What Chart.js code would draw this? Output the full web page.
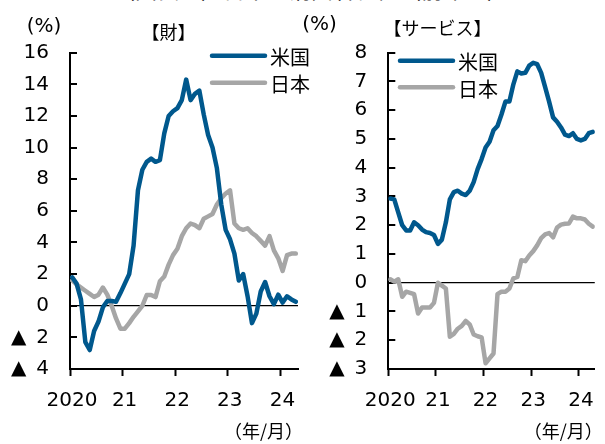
<!DOCTYPE html>
<html>
<head>
<meta charset="utf-8">
<script src="https://cdn.jsdelivr.net/npm/chart.js@4.4.1/dist/chart.umd.min.js"></script>
<style>
  body { margin: 0; background: #fff; width: 605px; height: 444px; overflow: hidden; position: relative; }
  canvas { position: absolute; top: 0; }
  #title { position: absolute; left: 0; width: 622px; top: -23px; text-align: center; font: 22px/22px "Noto Sans CJK JP", sans-serif; white-space: nowrap; }
</style>
</head>
<body>
<div id="title">（図表１）日米の消費者物価（前年比）</div>
<canvas id="goods" width="320" height="444" style="left:0"></canvas>
<canvas id="services" width="303" height="444" style="left:302px"></canvas>
<script>
// monthly, 2020/01 - 2024/04
const months = [];
for (let y = 2020; y <= 2024; y++) {
    for (let m = 1; m <= 12; m++) {
        if (y === 2024 && m > 4) break;
        months.push(y + '/' + m);
    }
}

const usGoods = [1.8, 1.4, 0.4, -2.3, -2.8, -1.6, -1.0, -0.1, 0.3, 0.3, 0.25, 0.8,
    1.4, 2.0, 3.8, 7.3, 8.6, 9.1, 9.3, 9.1, 9.2, 10.9, 12.0, 12.3,
    12.5, 13.0, 14.3, 13.0, 13.4, 13.6, 12.1, 10.8, 10.0, 8.7, 6.4, 4.8,
    4.2, 3.3, 1.6, 2.0, 0.6, -1.1, -0.5, 0.9, 1.5, 0.6, 0.1, 0.7,
    0.2, 0.6, 0.4, 0.25];
const jpGoods = [1.6, 1.35, 1.15, 0.95, 0.75, 0.55, 0.7, 1.15, 0.7, 0.0, -0.8, -1.45,
    -1.45, -1.1, -0.7, -0.35, 0.0, 0.68, 0.68, 0.55, 1.55, 1.85, 2.6, 3.2,
    3.6, 4.4, 4.9, 5.2, 5.1, 4.9, 5.5, 5.65, 5.8, 6.4, 6.8, 7.1,
    7.3, 5.2, 4.9, 4.8, 4.9, 4.6, 4.4, 4.1, 3.8, 4.4, 3.5, 3.0,
    2.2, 3.2, 3.3, 3.3];
const usServices = [2.93, 2.9, 2.45, 2.0, 1.82, 1.82, 2.1, 2.0, 1.85, 1.76, 1.73, 1.66,
    1.35, 1.5, 2.1, 2.9, 3.15, 3.2, 3.1, 3.05, 3.2, 3.5, 3.95, 4.3,
    4.7, 4.9, 5.3, 5.45, 5.85, 6.3, 6.3, 6.9, 7.35, 7.28, 7.3, 7.55,
    7.65, 7.6, 7.3, 6.8, 6.3, 5.75, 5.6, 5.4, 5.15, 5.1, 5.2, 5.0,
    4.95, 5.0, 5.2, 5.25];
const jpServices = [0.12, 0.04, 0.12, -0.49, -0.31, -0.35, -0.4, -1.07, -0.86, -0.86, -0.86, -0.7,
    0.0, -0.1, -0.2, -1.88, -1.78, -1.6, -1.5, -1.33, -1.45, -1.8, -1.86, -1.9,
    -2.8, -2.63, -2.46, -0.4, -0.31, -0.31, -0.2, 0.15, 0.2, 0.78, 0.75, 0.95,
    1.1, 1.3, 1.55, 1.68, 1.73, 1.58, 1.92, 2.02, 2.05, 2.06, 2.3, 2.24,
    2.24, 2.2, 2.05, 1.95];

const seriesNames = ['米国', '日本'];
const seriesColors = ['#00588d', '#a6a6a6'];
const yearLabels = ['2020', '21', '22', '23', '24'];

Chart.defaults.font.family = '"DejaVu Sans", "Noto Sans CJK JP", sans-serif';
Chart.defaults.font.size = 20;
Chart.defaults.color = '#000';

// points sit in the middle of each month, year ticks on the month boundaries
function toPoints(values) {
    return values.map((v, i) => ({ x: i + 0.5, y: v }));
}

const decor = {
    id: 'decor',
    beforeDatasetsDraw(chart) {
        const ys = chart.scales.y;
        const ctx = chart.ctx;
        const left = chart.chartArea.left;
        ctx.save();
        ctx.strokeStyle = '#000';
        ctx.lineWidth = 2;
        ys.ticks.forEach(t => {
            if (t.value === ys.min) return;
            const y = Math.round(ys.getPixelForValue(t.value));
            ctx.beginPath();
            ctx.moveTo(left, y);
            ctx.lineTo(left + 7, y);
            ctx.stroke();
        });
        ctx.restore();
    },
    afterDraw(chart, args, opts) {
        const ctx = chart.ctx;
        ctx.save();
        ctx.textBaseline = 'middle';
        opts.texts.forEach(t => {
            ctx.font = t.font;
            ctx.fillStyle = '#000';
            ctx.textAlign = t.align || 'center';
            ctx.fillText(t.text, t.x, t.y);
        });
        const lg = opts.legend;
        chart.data.datasets.forEach((ds, i) => {
            const y = lg.y + i * lg.gap;
            ctx.strokeStyle = ds.borderColor;
            ctx.lineWidth = 4.5;
            ctx.lineCap = 'round';
            ctx.beginPath();
            ctx.moveTo(lg.x, y);
            ctx.lineTo(lg.x + 53, y);
            ctx.stroke();
            ctx.font = '20px "Noto Sans CJK JP"';
            ctx.textAlign = 'left';
            ctx.fillText(ds.label, lg.x + 58, y + 2);
        });
        ctx.restore();
    }
};

function makeChart(id, us, jp, yMin, yMax, step, axisWidth, padRight, texts, legend) {
    return new Chart(document.getElementById(id), {
        type: 'line',
        data: {
            datasets: [
                { label: seriesNames[0], data: toPoints(us), borderColor: seriesColors[0] },
                { label: seriesNames[1], data: toPoints(jp), borderColor: seriesColors[1] }
            ]
        },
        options: {
            responsive: false,
            animation: false,
            devicePixelRatio: 1,
            layout: { padding: { left: 0, top: 52.7, right: padRight, bottom: 0 } },
            elements: {
                line: { borderWidth: 4.5, tension: 0, borderCapStyle: 'round', borderJoinStyle: 'round' },
                point: { radius: 0 }
            },
            plugins: {
                legend: { display: false },
                tooltip: { enabled: false },
                decor: { texts: texts, legend: legend }
            },
            scales: {
                x: {
                    type: 'linear',
                    min: 0,
                    max: months.length,
                    afterFit: s => { s.height = 75; },
                    border: { display: true, color: '#000', width: 2 },
                    grid: { drawOnChartArea: false, drawTicks: true, tickLength: 7, tickColor: '#000', tickWidth: 2 },
                    ticks: {
                        stepSize: 12,
                        includeBounds: false,
                        autoSkip: false,
                        maxRotation: 0,
                        padding: 13,
                        labelOffset: 2,
                        callback: v => yearLabels[v / 12]
                    }
                },
                y: {
                    min: yMin,
                    max: yMax,
                    afterFit: s => { s.width = axisWidth; },
                    border: { display: true, color: '#000', width: 2 },
                    grid: {
                        drawTicks: false,
                        lineWidth: 1.3,
                        color: c => (c.tick && c.tick.value === 0) ? '#000' : 'rgba(0,0,0,0)'
                    },
                    ticks: {
                        stepSize: step,
                        padding: 21,
                        callback: v => v < 0 ? '▲\u2002' + (-v) : String(v)
                    }
                }
            }
        },
        plugins: [decor]
    });
}

makeChart('goods', usGoods, jpGoods, -4, 16, 2, 70, 22, [
    { text: '(%)', x: 44, y: 27, font: '20px "DejaVu Sans"' },
    { text: '【財】', x: 168.5, y: 32, font: '18px "Noto Sans CJK JP"' },
    { text: '（年/月）', x: 263.5, y: 431, font: '18px "Noto Sans CJK JP"' }
], { x: 212, y: 55.7, gap: 27 });

makeChart('services', usServices, jpServices, -3, 8, 1, 86.3, 5, [
    { text: '(%)', x: 17.5, y: 25, font: '20px "DejaVu Sans"' },
    { text: '【サービス】', x: 135.5, y: 28, font: '18px "Noto Sans CJK JP"' },
    { text: '（年/月）', x: 261.3, y: 431, font: '18px "Noto Sans CJK JP"' }
], { x: 98, y: 60.7, gap: 26.6 });
</script>
</body>
</html>
